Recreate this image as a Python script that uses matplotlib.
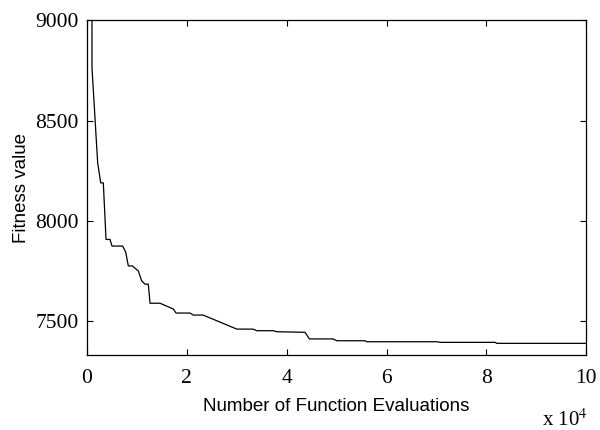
import matplotlib
matplotlib.use('Agg')
import matplotlib.pyplot as plt

# best fitness so far vs. number of evaluations (x in units of 1e4)
evals = [0.10, 0.10, 0.214, 0.275, 0.327, 0.381, 0.461, 0.501, 0.715, 0.776,
         0.828, 0.908, 1.028, 1.096, 1.162, 1.228, 1.263, 1.463, 1.729, 1.784,
         2.064, 2.130, 2.325, 2.665, 3.000, 3.327, 3.400, 3.733, 3.800, 4.369,
         4.455, 4.930, 5.004, 5.571, 5.605, 7.008, 7.074, 8.176, 8.210, 10.0]
fitness = [9600, 8762, 8288, 8189, 8189, 7907, 7907, 7874, 7874, 7843,
           7775, 7775, 7750, 7700, 7684, 7684, 7589, 7589, 7560, 7540,
           7540, 7530, 7530, 7495, 7460, 7460, 7452, 7452, 7447, 7444,
           7411, 7411, 7402, 7402, 7397, 7397, 7394, 7394, 7389, 7389]

xticks = [0, 2, 4, 6, 8, 10]
yticks = [7500, 8000, 8500, 9000]

fig = plt.figure(figsize=(6, 4.3), dpi=100)
ax = fig.add_axes([0.145, 0.174, 0.832, 0.779])
ax.plot(evals, fitness, color='black', linewidth=0.9)

ax.set_xlim(0, 10)
ax.set_ylim(7330, 9000)
ax.set_xticks(xticks)
ax.set_yticks(yticks)
ax.tick_params(direction='in', length=4, width=0.8, labelsize=15.5, pad=6,
               top=True, right=True)
ax.tick_params(axis='x', pad=10)
for lab in ax.get_xticklabels() + ax.get_yticklabels():
    lab.set_family('Liberation Serif')
for s in ax.spines.values():
    s.set_linewidth(0.9)

ax.set_xlabel('Number of Function Evaluations', family='Liberation Sans',
              fontsize=13.5, labelpad=7)
ax.set_ylabel('Fitness value', family='Liberation Sans', fontsize=13.5,
              labelpad=4)
fig.text(0.903, 0.01, r'x 10$^4$', family='Liberation Serif', fontsize=15,
         math_fontfamily='stix')

fig.savefig('out.png', dpi=100)
